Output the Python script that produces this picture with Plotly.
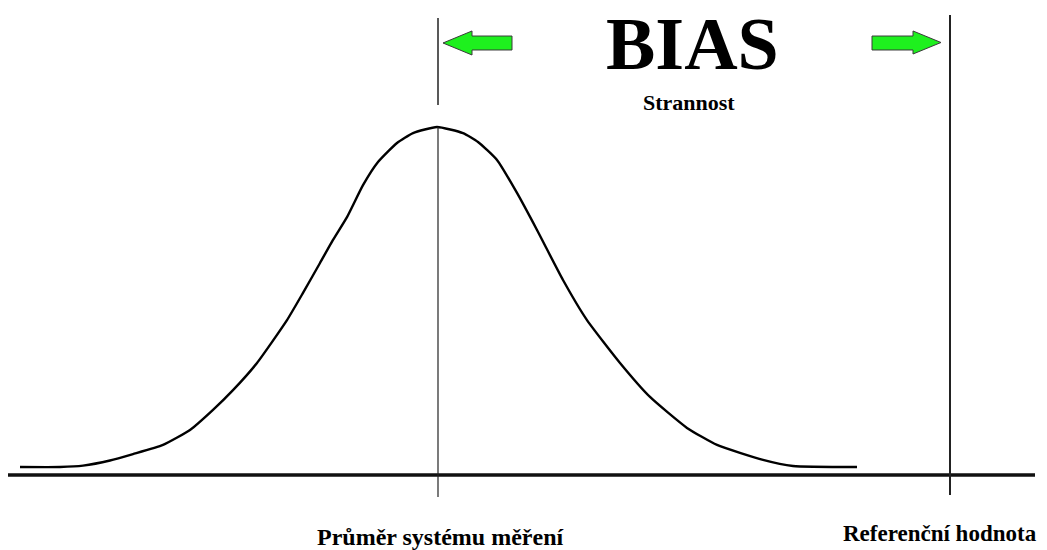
import plotly.graph_objects as go

# ---- data (x: measurement units, mean = 0; y: relative frequency, peak = 1) ----
curve_x = [-4.17, -3.77, -3.54, -3.27, -3.04, -2.74, -2.47, -2.24, -2.04, -1.80,
           -1.50, -1.34, -1.17, -1.04, -0.90, -0.74, -0.59, -0.40, -0.24, 0.00,
           0.26, 0.41, 0.60, 0.80, 1.00, 1.26, 1.50, 1.83, 2.13, 2.50,
           2.80, 3.26, 3.56, 4.20]
curve_y = [0.000, 0.000, 0.004, 0.019, 0.038, 0.065, 0.109, 0.168, 0.226, 0.306,
           0.432, 0.512, 0.600, 0.668, 0.735, 0.829, 0.897, 0.953, 0.982, 1.000,
           0.982, 0.956, 0.903, 0.806, 0.697, 0.550, 0.432, 0.306, 0.206, 0.115,
           0.065, 0.021, 0.003, 0.000]
mean_value = 0.01
reference_value = 5.13
labels = ["Průměr systému měření", "Referenční hodnota"]
title_text = "BIAS"
subtitle_text = "Strannost"

# ---- layout helpers (pixel -> axis units) ----
W, H = 1047, 550
X0, XS = 4.37, 100.0          # x = px / XS - X0
Y0, YS = 467.0, 340.0         # y = (Y0 - py) / YS


def px(p):
    return p / XS - X0


def py(p):
    return (Y0 - p) / YS


fig = go.Figure()

# baseline
fig.add_shape(type="line", x0=px(8), x1=px(1035), y0=py(475), y1=py(475),
              line=dict(color="#111111", width=3.5))

# curve
fig.add_trace(go.Scatter(x=curve_x, y=curve_y, mode="lines",
                         line=dict(color="black", width=2.4, shape="spline", smoothing=0.5),
                         hoverinfo="skip", showlegend=False))

# mean line (upper segment and lower segment)
fig.add_shape(type="line", x0=mean_value, x1=mean_value, y0=py(18), y1=py(105),
              line=dict(color="#222222", width=1.5))
fig.add_shape(type="line", x0=mean_value, x1=mean_value, y0=max(curve_y), y1=py(497),
              line=dict(color="#222222", width=1.2))

# reference line
fig.add_shape(type="line", x0=reference_value, x1=reference_value, y0=py(15), y1=py(495),
              line=dict(color="#222222", width=2))


def arrow_path(pts):
    return "M " + " L ".join(f"{px(a):.4f},{py(b):.4f}" for a, b in pts) + " Z"


mx = (mean_value + X0) * XS
rx = (reference_value + X0) * XS
left_arrow = [(mx + 5, 43), (mx + 34, 31), (mx + 34, 36), (mx + 74, 36),
              (mx + 74, 50), (mx + 34, 50), (mx + 34, 55)]
right_arrow = [(rx - 78, 36), (rx - 37, 36), (rx - 37, 31), (rx - 9, 42.5),
               (rx - 37, 54), (rx - 37, 50), (rx - 78, 50)]
for pts in (left_arrow, right_arrow):
    fig.add_shape(type="path", path=arrow_path(pts), fillcolor="#1ef01e",
                  line=dict(color="#3a3a3a", width=1))

serif = "Liberation Serif"
fig.add_annotation(x=px(692), y=py(44), text=f"<b>{title_text}</b>", showarrow=False,
                   font=dict(family=serif, size=74, color="black"),
                   xanchor="center", yanchor="middle")
fig.add_annotation(x=px(689), y=py(102), text=f"<b>{subtitle_text}</b>", showarrow=False,
                   font=dict(family=serif, size=22, color="black"),
                   xanchor="center", yanchor="middle")
fig.add_annotation(x=px(440), y=py(537), text=f"<b>{labels[0]}</b>", showarrow=False,
                   font=dict(family=serif, size=24, color="black"),
                   xanchor="center", yanchor="middle")
fig.add_annotation(x=px(940), y=py(533), text=f"<b>{labels[1]}</b>", showarrow=False,
                   font=dict(family=serif, size=23, color="black"),
                   xanchor="center", yanchor="middle")

fig.update_layout(
    width=W, height=H,
    margin=dict(l=0, r=0, t=0, b=0),
    paper_bgcolor="white", plot_bgcolor="white",
    xaxis=dict(range=[px(0), px(W)], visible=False, fixedrange=True),
    yaxis=dict(range=[py(H), py(0)], visible=False, fixedrange=True),
    showlegend=False,
)

fig.write_html("out.html", config={"displayModeBar": False},
               post_script="document.body.style.margin='0';document.body.style.overflow='hidden';")
